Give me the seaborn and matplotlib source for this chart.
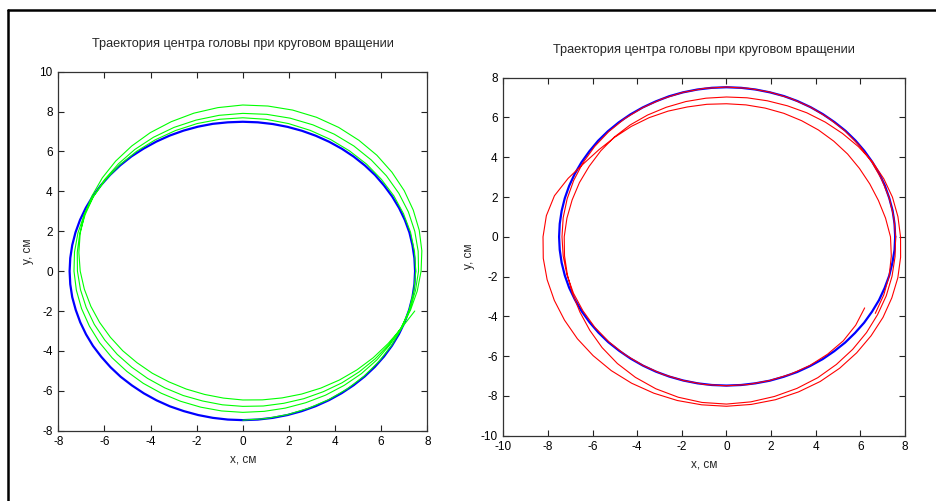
import numpy as np
import pandas as pd
import matplotlib
matplotlib.use("Agg")
import matplotlib.pyplot as plt
from matplotlib.lines import Line2D
import seaborn as sns

sns.set_style("ticks")
plt.rcParams['font.family'] = ['Liberation Sans', 'DejaVu Sans']

TITLE = "Траектория центра головы при круговом вращении"
XLABEL = "x, см"
YLABEL = "y, см"

# ---- reference circles (blue): radius read every 5 degrees ----
blue_step = 5.0
blue_left_r = [
    7.47, 7.47, 7.47, 7.48, 7.48, 7.48, 7.48, 7.48, 7.49, 7.49, 7.49, 7.49, 7.49, 7.49, 7.49, 7.49, 7.49, 7.49,
    7.49, 7.49, 7.50, 7.50, 7.50, 7.50, 7.50, 7.50, 7.51, 7.51, 7.51, 7.51, 7.51, 7.51, 7.51, 7.51, 7.51, 7.51,
    7.51, 7.51, 7.51, 7.50, 7.50, 7.50, 7.50, 7.49, 7.49, 7.49, 7.48, 7.48, 7.48, 7.48, 7.47, 7.47, 7.47, 7.47,
    7.47, 7.47, 7.47, 7.47, 7.47, 7.47, 7.47, 7.47, 7.47, 7.47, 7.47, 7.47, 7.47, 7.47, 7.47, 7.47, 7.47, 7.47,
    7.47]
blue_right_r = [
    7.56, 7.56, 7.56, 7.55, 7.55, 7.55, 7.54, 7.54, 7.54, 7.54, 7.53, 7.53, 7.53, 7.53, 7.53, 7.52, 7.52, 7.52,
    7.52, 7.52, 7.52, 7.52, 7.52, 7.51, 7.51, 7.51, 7.51, 7.51, 7.51, 7.50, 7.50, 7.50, 7.50, 7.50, 7.50, 7.50,
    7.50, 7.50, 7.50, 7.50, 7.50, 7.49, 7.49, 7.49, 7.49, 7.49, 7.48, 7.48, 7.48, 7.48, 7.48, 7.48, 7.48, 7.48,
    7.48, 7.48, 7.48, 7.49, 7.49, 7.50, 7.50, 7.51, 7.51, 7.52, 7.52, 7.53, 7.53, 7.54, 7.54, 7.55, 7.55, 7.56,
    7.56]

# ---- green trajectory (left chart): radius every 7.5 deg, from -90 deg, counter-clockwise ----
green_start, green_step = -90.0, 7.5
green_r = [
    7.47, 7.46, 7.45, 7.44, 7.44, 7.44, 7.44, 7.44, 7.45, 7.46, 7.47, 7.48,
    7.50, 7.51, 7.53, 7.54, 7.56, 7.57, 7.59, 7.60, 7.62, 7.64, 7.66, 7.68,
    7.69, 7.68, 7.66, 7.63, 7.60, 7.57, 7.54, 7.51, 7.48, 7.44, 7.40, 7.36,
    7.32, 7.28, 7.24, 7.20, 7.17, 7.14, 7.11, 7.09, 7.07, 7.06, 7.06, 7.07,
    7.08, 7.09, 7.11, 7.14, 7.18, 7.22, 7.27, 7.32, 7.37, 7.43, 7.49, 7.55,
    7.62, 7.67, 7.72, 7.77, 7.81, 7.85, 7.88, 7.91, 7.93, 7.94, 7.94, 7.93,
    7.91, 7.88, 7.84, 7.80, 7.75, 7.69, 7.62, 7.55, 7.48, 7.40, 7.32, 7.24,
    7.17, 7.10, 7.03, 6.97, 6.91, 6.86, 6.81, 6.78, 6.76, 6.75, 6.74, 6.76,
    6.78, 6.82, 6.86, 6.92, 6.98, 7.06, 7.14, 7.23, 7.33, 7.43, 7.53, 7.63,
    7.73, 7.83, 7.92, 8.00, 8.08, 8.15, 8.22, 8.27, 8.32, 8.35, 8.36, 8.35,
    8.33, 8.27, 8.20, 8.11, 8.02, 7.91, 7.80, 7.68, 7.55, 7.43, 7.30, 7.17,
    7.05, 6.93, 6.82, 6.72, 6.63, 6.56, 6.49, 6.45, 6.41, 6.40, 6.40, 6.42,
    6.46, 6.51, 6.58, 6.67, 6.77, 6.88, 7.00, 7.13, 7.27, 7.45, 7.72]

# ---- red trajectory (right chart): radius every 7.5 deg, from -30 deg, clockwise ----
red_start, red_step = -30.0, -7.5
red_r = [
    7.15, 7.30, 7.40, 7.44, 7.47, 7.48, 7.48, 7.49, 7.49, 7.49, 7.48, 7.48,
    7.47, 7.47, 7.46, 7.45, 7.43, 7.42, 7.40, 7.38, 7.37, 7.38, 7.39, 7.41,
    7.43, 7.45, 7.47, 7.49, 7.50, 7.51, 7.52, 7.53, 7.53, 7.53, 7.53, 7.53,
    7.53, 7.52, 7.52, 7.52, 7.52, 7.53, 7.55, 7.56, 7.58, 7.62, 7.68, 7.75,
    7.82, 7.91, 8.00, 8.09, 8.18, 8.25, 8.31, 8.37, 8.41, 8.40, 8.35, 8.27,
    8.16, 8.03, 7.88, 7.72, 7.58, 7.47, 7.38, 7.32, 7.27, 7.21, 7.16, 7.13,
    7.10, 7.10, 7.10, 7.09, 7.07, 7.05, 7.04, 7.03, 7.03, 7.05, 7.08, 7.13,
    7.20, 7.27, 7.35, 7.45, 7.55, 7.63, 7.70, 7.75, 7.80, 7.87, 7.95, 8.02,
    8.10, 8.17, 8.25, 8.33, 8.40, 8.44, 8.48, 8.50, 8.52, 8.52, 8.52, 8.51,
    8.50, 8.48, 8.45, 8.42, 8.38, 8.35, 8.32, 8.28, 8.22, 8.14, 7.98, 7.68,
    7.38, 7.20, 7.08, 7.00, 6.92, 6.84, 6.76, 6.72, 6.69, 6.69, 6.70, 6.72,
    6.74, 6.77, 6.80, 6.84, 6.88, 6.95, 7.05, 7.19, 7.35, 7.45, 7.55, 7.63,
    7.70]

left_xticks = [-8, -6, -4, -2, 0, 2, 4, 6, 8]
left_yticks = [-8, -6, -4, -2, 0, 2, 4, 6, 8, 10]
right_xticks = [-10, -8, -6, -4, -2, 0, 2, 4, 6, 8]
right_yticks = [-10, -8, -6, -4, -2, 0, 2, 4, 6, 8]


def to_frame(start, step, r):
    r = np.asarray(r, dtype=float)
    a = np.deg2rad(start + step * np.arange(len(r)))
    return pd.DataFrame({"x": r * np.cos(a), "y": r * np.sin(a)})


fig = plt.figure(figsize=(9.36, 5.01), dpi=100)
fig.patch.set_facecolor("white")

ax1 = fig.add_axes([58.3 / 936, 1 - 430.7 / 501, 369 / 936, 359 / 501])
ax2 = fig.add_axes([503.3 / 936, 1 - 435.7 / 501, 401.7 / 936, 358 / 501])

sns.lineplot(data=to_frame(0.0, blue_step, blue_left_r), x="x", y="y", sort=False,
             estimator=None, color="#0000ff", lw=1.6, ax=ax1)
sns.lineplot(data=to_frame(green_start, green_step, green_r), x="x", y="y", sort=False,
             estimator=None, color="#00ff00", lw=0.8, ax=ax1)

sns.lineplot(data=to_frame(0.0, blue_step, blue_right_r), x="x", y="y", sort=False,
             estimator=None, color="#0000ff", lw=1.6, ax=ax2)
sns.lineplot(data=to_frame(red_start, red_step, red_r), x="x", y="y", sort=False,
             estimator=None, color="#ff0000", lw=0.8, ax=ax2)

for ax, xt, yt in [(ax1, left_xticks, left_yticks),
                   (ax2, right_xticks, right_yticks)]:
    ax.set_xlim(xt[0], xt[-1])
    ax.set_ylim(yt[0], yt[-1])
    ax.set_xticks(xt)
    ax.set_yticks(yt)
    ax.set_xticklabels([str(v) for v in xt])
    ax.set_yticklabels([str(v) for v in yt])
    ax.tick_params(direction="in", length=4, width=0.8, labelsize=8.5,
                   top=True, right=True, pad=4, colors="#222222",
                   labelcolor="black")
    for s in ax.spines.values():
        s.set_visible(True)
        s.set_linewidth(0.9)
        s.set_color("#333333")
    ax.set_xlabel(XLABEL, fontsize=8.5, labelpad=4)
    ax.set_ylabel(YLABEL, fontsize=8.5, labelpad=4)
    ax.set_title(TITLE, fontsize=9.2, pad=18)
    ax.set_facecolor("white")

# outer frame (top and left edges)
fig.add_artist(Line2D([8 / 936, 1.0], [1 - 10 / 501, 1 - 10 / 501],
                      transform=fig.transFigure, color="black", lw=1.8))
fig.add_artist(Line2D([8 / 936, 8 / 936], [0.0, 1 - 10 / 501],
                      transform=fig.transFigure, color="black", lw=1.8))

fig.savefig("out.png", dpi=100, facecolor="white")
